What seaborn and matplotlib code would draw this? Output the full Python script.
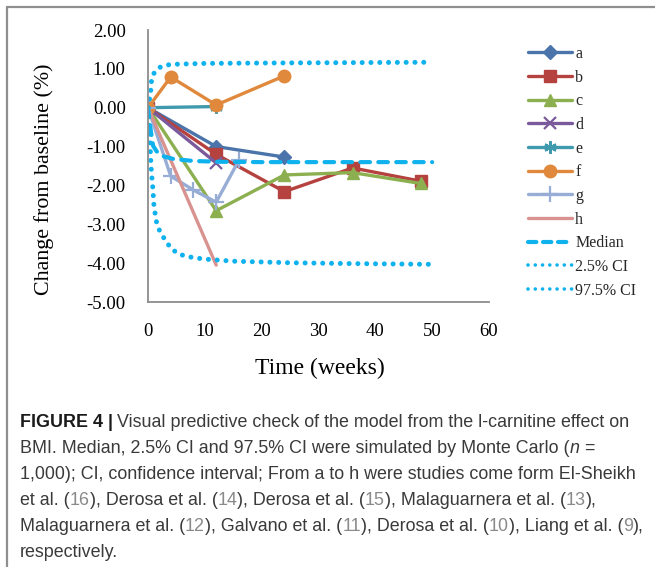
import matplotlib
matplotlib.use("Agg")
import matplotlib.pyplot as plt
import seaborn as sns
import numpy as np
import pandas as pd
from matplotlib.lines import Line2D

# ---------------- data ----------------
a_x = [0, 12, 24]
a_y = [0, -1.00, -1.27]
b_x = [0, 12, 24, 36, 48]
b_y = [0, -1.20, -2.16, -1.55, -1.89]
c_x = [0, 12, 24, 36, 48]
c_y = [0, -2.65, -1.73, -1.67, -1.95]
d_x = [0, 12]
d_y = [0, -1.42]
e_x = [0, 12]
e_y = [0, 0.03]
f_x = [0, 4, 12, 24]
f_y = [0, 0.79, 0.07, 0.82]
g_x = [0, 4, 8, 12, 16]
g_y = [0, -1.76, -2.12, -2.43, -1.35]
h_x = [0, 12]
h_y = [0, -4.05]

median_x = [0, 0.5, 0.9, 1.5, 2.7, 4.5, 8, 12, 20, 30, 40, 50]
median_y = [0, -0.60, -0.98, -1.12, -1.25, -1.32, -1.37, -1.39, -1.40, -1.40, -1.40, -1.40]
lower_x = [0, 0.3, 0.5, 0.65, 0.83, 1.06, 1.53, 2.1, 3.0, 4.0, 5.3, 6.9, 8.6, 10.3, 15, 25, 35, 50]
lower_y = [0, -0.70, -1.42, -1.73, -2.03, -2.55, -2.97, -3.19, -3.40, -3.61, -3.76, -3.83, -3.87,
           -3.90, -3.95, -3.99, -4.01, -4.03]
upper_x = [0, 0.3, 0.5, 0.65, 1.2, 2.1, 3.3, 5, 10, 20, 35, 50]
upper_y = [0, 0.25, 0.46, 0.76, 0.93, 1.04, 1.10, 1.12, 1.14, 1.15, 1.16, 1.17]

series_labels = ["a", "b", "c", "d", "e", "f", "g", "h"]
ref_labels = ["Median", "2.5% CI", "97.5% CI"]
x_ticks = [0, 10, 20, 30, 40, 50, 60]
y_ticks = [-5, -4, -3, -2, -1, 0, 1, 2]
y_tick_labels = ["-5.00", "-4.00", "-3.00", "-2.00", "-1.00", "0.00", "1.00", "2.00"]

# ---------------- style ----------------
sns.set_style("white")
plt.rcParams["font.family"] = "Liberation Serif"

W, H = 655, 567
fig = plt.figure(figsize=(W / 100, H / 100), dpi=100)

L, R, T, B = 148, 489, 30, 302
ax = fig.add_axes([L / W, 1 - B / H, (R - L) / W, (B - T) / H])

colors = {
    "a": "#4a74aa", "b": "#b5423f", "c": "#8cb050", "d": "#7a5a9a",
    "e": "#3f9aae", "f": "#e0893c", "g": "#98add5", "h": "#d8928f",
}
markers = {
    "a": "D", "b": "s", "c": "^", "d": "x", "e": (6, 2, 0),
    "f": "o", "g": "+", "h": None,
}
msize = {"a": 7, "b": 8, "c": 8, "d": 8, "e": 9, "f": 9, "g": 11, "h": 0}

data = {
    "a": (a_x, a_y), "b": (b_x, b_y), "c": (c_x, c_y), "d": (d_x, d_y),
    "e": (e_x, e_y), "f": (f_x, f_y), "g": (g_x, g_y), "h": (h_x, h_y),
}
handles = []
for k in series_labels:
    xs, ys = data[k]
    df = pd.DataFrame({"x": xs, "y": ys})
    kw = dict(color=colors[k], lw=2.4, estimator=None, sort=False, ax=ax, legend=False)
    mew = 1.6 if markers[k] in ("x", "+", (6, 2, 0)) else 1.0
    if markers[k] is not None:
        kw.update(marker=markers[k], markersize=msize[k], markeredgecolor=colors[k],
                  markeredgewidth=mew)
    sns.lineplot(data=df, x="x", y="y", **kw)
    handles.append(Line2D([], [], color=colors[k], lw=2.4,
                          marker=markers[k] if markers[k] is not None else None,
                          markersize=msize[k] if markers[k] is not None else 0,
                          markeredgecolor=colors[k], markeredgewidth=mew))

ci_color = "#10b2ee"
dash_med = (0, (2.3, 2.0))
dot_ci = (0, (0.01, 1.75))
sns.lineplot(data=pd.DataFrame({"x": median_x, "y": median_y}), x="x", y="y",
             color=ci_color, lw=3.0, linestyle=dash_med, dash_capstyle="round",
             estimator=None, sort=False, ax=ax, legend=False)
sns.lineplot(data=pd.DataFrame({"x": lower_x, "y": lower_y}), x="x", y="y",
             color=ci_color, lw=3.6, linestyle=dot_ci, dash_capstyle="round",
             estimator=None, sort=False, ax=ax, legend=False)
sns.lineplot(data=pd.DataFrame({"x": upper_x, "y": upper_y}), x="x", y="y",
             color=ci_color, lw=3.6, linestyle=dot_ci, dash_capstyle="round",
             estimator=None, sort=False, ax=ax, legend=False)
handles.append(Line2D([], [], color=ci_color, lw=3.0, linestyle=(0, (2.0, 1.6)),
                      dash_capstyle="round"))
handles.append(Line2D([], [], color=ci_color, lw=2.6, linestyle=(0, (0.01, 2.0)),
                      dash_capstyle="round"))
handles.append(Line2D([], [], color=ci_color, lw=2.6, linestyle=(0, (0.01, 2.0)),
                      dash_capstyle="round"))

ax.set_xlim(0, 60)
ax.set_ylim(-5, 2)
ax.set_xticks(x_ticks)
ax.set_xticklabels([str(v) for v in x_ticks], family="Liberation Serif")
ax.set_yticks(y_ticks)
ax.set_yticklabels(y_tick_labels, family="Liberation Serif")
ax.set_xlabel("")
ax.set_ylabel("")
for s in ["top", "right"]:
    ax.spines[s].set_visible(False)
for s in ["left", "bottom"]:
    ax.spines[s].set_color("#8c8c8c")
    ax.spines[s].set_linewidth(1.3)
ax.tick_params(axis="both", direction="out", length=5, width=1.3, color="#8c8c8c",
               labelsize=13.5, labelcolor="black")
ax.tick_params(axis="y", pad=11)
ax.tick_params(axis="x", pad=10)
ax.patch.set_alpha(0)

fig.text(320 / W, 1 - 368 / H, "Time (weeks)", ha="center", va="center",
         fontsize=17, color="black", family="Liberation Serif")
fig.text(44 / W, 1 - 179 / H, "Change from baseline (%)", ha="center", va="center",
         rotation=90, fontsize=15.8, color="black", family="Liberation Serif")

leg = fig.legend(handles, series_labels + ref_labels, loc="upper left",
                 bbox_to_anchor=(528 / W, 1 - 46 / H), frameon=False,
                 prop={"family": "Liberation Serif", "size": 11.5},
                 handlelength=2.75, handletextpad=0.2,
                 labelspacing=0.48, borderpad=0, borderaxespad=0)

# ---------------- frame lines ----------------
fig.add_artist(Line2D([7 / W, 1], [1 - 7 / H, 1 - 7 / H], color="#8f8f8f", lw=1.6,
                      transform=fig.transFigure))
fig.add_artist(Line2D([7 / W, 7 / W], [1 - 7 / H, 0], color="#8f8f8f", lw=1.6,
                      transform=fig.transFigure))

# ---------------- caption ----------------
cap = fig.add_axes([0, 0, 1, 1])
cap.axis("off")
cap.set_xlim(0, 1)
cap.set_ylim(0, 1)

cfont = "Liberation Sans"
dark = "#3a3a3a"
gray = "#8a8a8a"
csize = 12.9
space = 0.25 * csize

# each segment: (text, style, leading_space)
lines = [
    [("FIGURE 4 |", "bold", False),
     ("Visual predictive check of the model from the l-carnitine effect on", "n", True)],
    [("BMI. Median, 2.5% CI and 97.5% CI were simulated by Monte Carlo (", "n", False),
     ("n", "i", False), ("=", "n", True)],
    [("1,000); CI, confidence interval; From a to h were studies come form El-Sheikh", "n", False)],
    [("et al. (", "n", False), ("16", "g", False), ("), Derosa et al. (", "n", False),
     ("14", "g", False), ("), Derosa et al. (", "n", False), ("15", "g", False),
     ("), Malaguarnera et al. (", "n", False), ("13", "g", False), ("),", "n", False)],
    [("Malaguarnera et al. (", "n", False), ("12", "g", False),
     ("), Galvano et al. (", "n", False), ("11", "g", False),
     ("), Derosa et al. (", "n", False), ("10", "g", False),
     ("), Liang et al. (", "n", False), ("9", "g", False), ("),", "n", False)],
    [("respectively.", "n", False)],
]
y0 = 427
dy = 26
for i, segs in enumerate(lines):
    prev = None
    for text, style, lead in segs:
        kw = dict(fontsize=csize, family=cfont, color=dark)
        if style == "bold":
            kw.update(fontweight="bold", color="#1a1a1a")
        elif style == "i":
            kw.update(fontstyle="italic")
        elif style == "g":
            kw.update(color=gray)
        if prev is None:
            prev = cap.text(20 / W, 1 - (y0 + i * dy) / H, text, ha="left",
                            va="baseline", **kw)
        else:
            prev = cap.annotate(text, xy=(1, 0), xycoords=prev,
                                xytext=(space if lead else 0, 0),
                                textcoords="offset points",
                                ha="left", va="bottom", **kw)

fig.savefig("out.png", dpi=100)
